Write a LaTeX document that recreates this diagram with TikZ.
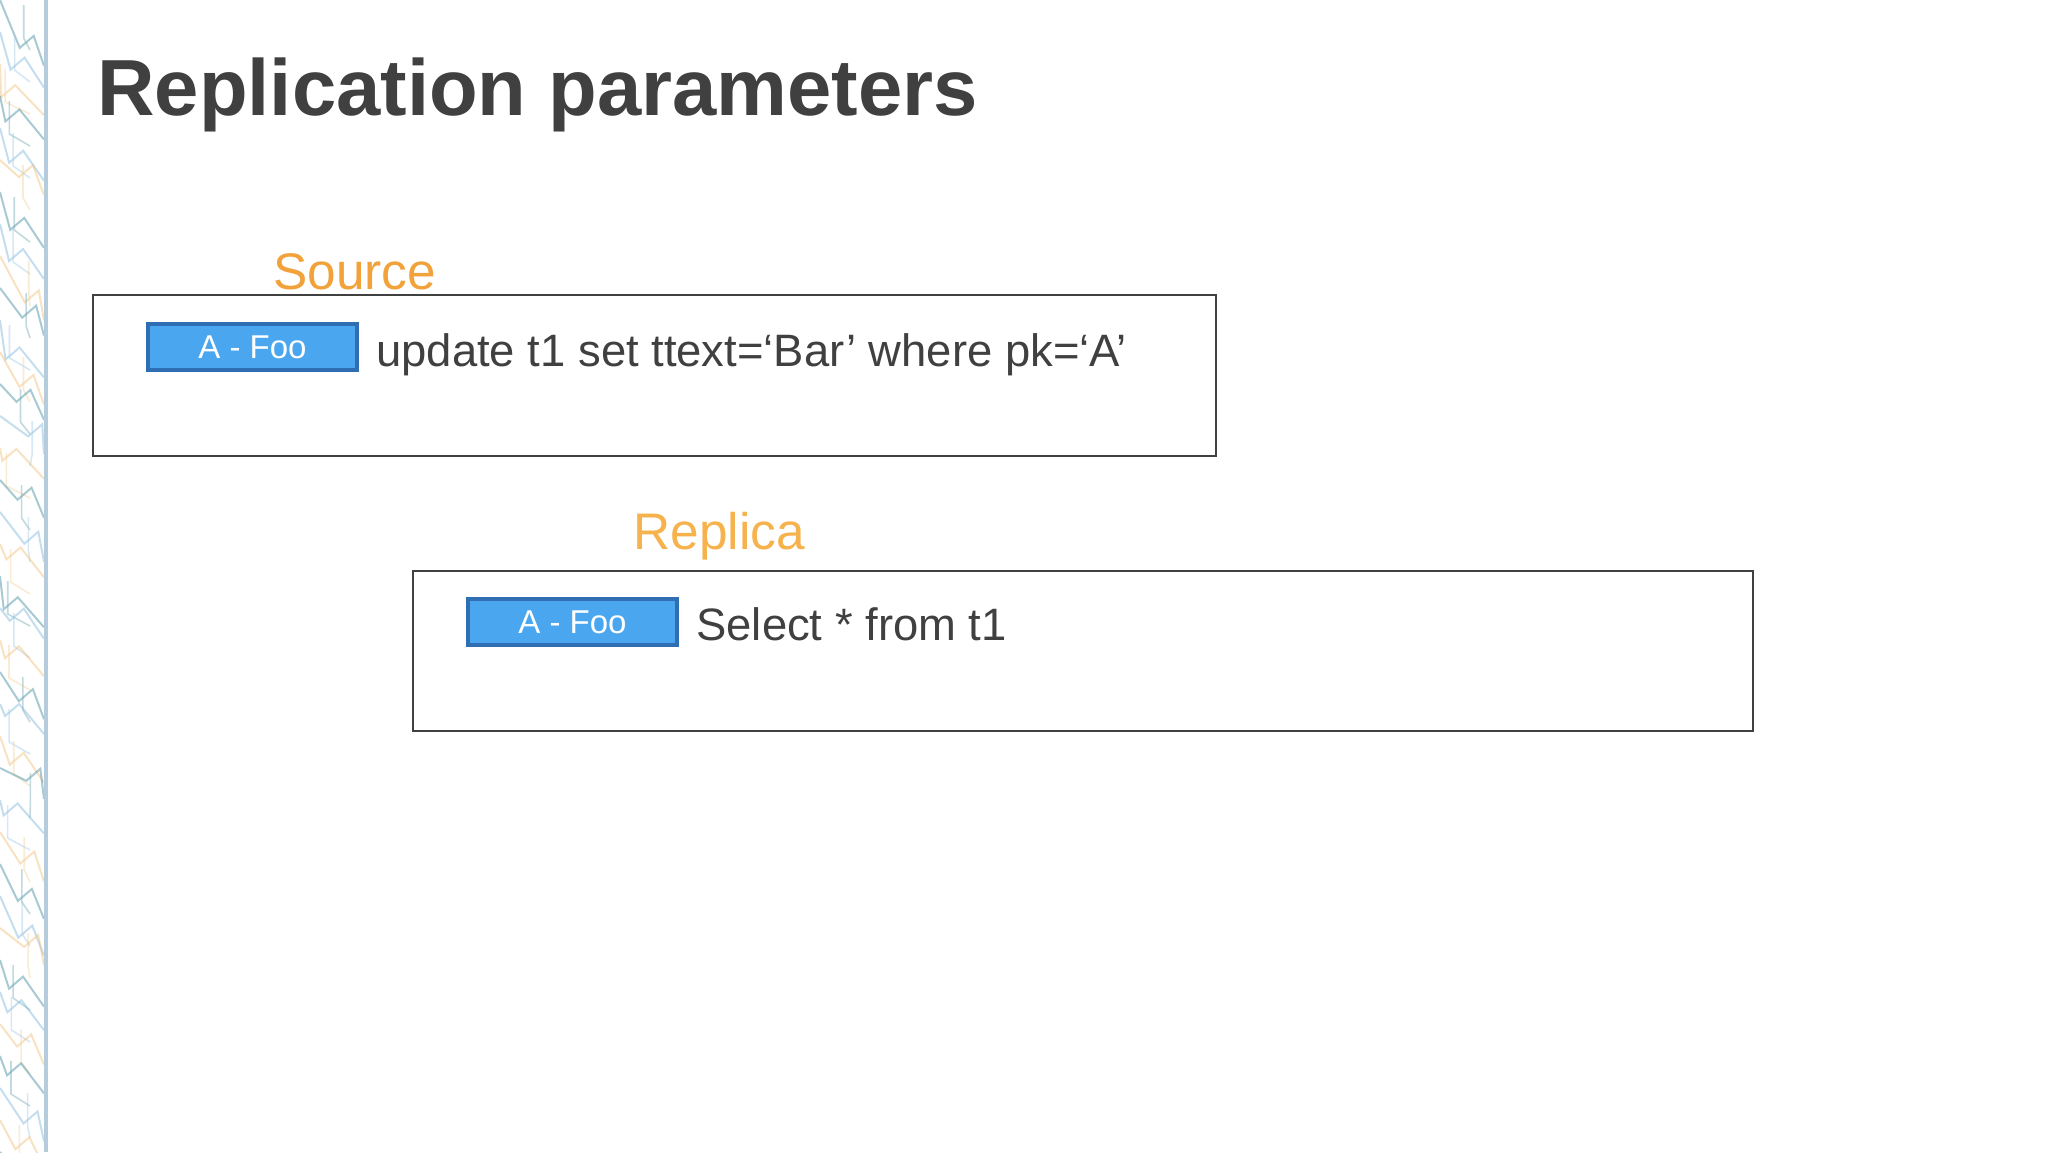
\documentclass[tikz,border=0pt]{standalone}
\usepackage{fontspec}
\setmainfont{Liberation Sans}
\definecolor{txt}{HTML}{404040}
\definecolor{orng}{HTML}{F2A23A}
\definecolor{orngl}{HTML}{F6B24C}
\definecolor{boxfill}{HTML}{4AA6EE}
\definecolor{boxedge}{HTML}{2F6EB2}
\definecolor{deco1}{HTML}{3F8A9C}
\definecolor{deco2}{HTML}{F1C079}
\definecolor{deco3}{HTML}{7FB7DD}
\definecolor{stripline}{HTML}{B4CCDC}
\tikzset{
  frame/.style={draw=txt, line width=1.2pt},
  tag/.style={draw=boxedge, line width=1.8pt, fill=boxfill},
  tagtext/.style={text=white, font=\fontsize{16.5}{18}\selectfont, inner sep=0pt},
  heading/.style={text=orng, font=\fontsize{25.7}{30}\selectfont, anchor=base west, inner sep=0pt},
  code/.style={text=txt, font=\fontsize{22.7}{27}\selectfont, anchor=base west, inner sep=0pt},
  decoline/.style={line width=1pt, opacity=0.45}
}
\begin{document}
\begin{tikzpicture}[x=0.5pt,y=-0.5pt]
\useasboundingbox (0,0) rectangle (2048,1152);
\fill[white] (0,0) rectangle (2048,1152);
% decorative strip
\begin{scope}
\clip (0,0) rectangle (46,1152);
\pgfmathsetseed{11}
\foreach \i in {0,...,36}{
  \pgfmathsetmacro{\yy}{\i*32}
  \pgfmathsetmacro{\dx}{rnd*30}
  \pgfmathsetmacro{\dy}{rnd*40+10}
  \pgfmathtruncatemacro{\cc}{mod(\i,3)}
  \ifnum\cc=0 \def\col{deco1}\fi
  \ifnum\cc=1 \def\col{deco3}\fi
  \ifnum\cc=2 \def\col{deco2}\fi
  \draw[decoline, draw=\col] (0,\yy) -- (\dx,\yy+\dy) -- (\dx+14,\yy+\dy-12) -- (44,\yy+\dy+18);
  \draw[decoline, draw=\col!70, line width=0.8pt] (\dx+4,\yy+5) -- (\dx+4,\yy+38) -- (30,\yy+50);
}
\end{scope}
\draw[draw=stripline, line width=1.6pt] (46,0) -- (46,1152);
% title
\node[anchor=base west, inner sep=0pt, text=txt, font=\bfseries\fontsize{39.8}{46}\selectfont] (title) at (97,115) {Replication parameters};
% source
\node[heading] (srclabel) at (273,289) {Source};
\draw[frame] (93,295) rectangle (1216,456);
\node[tag, minimum width=104.5pt, minimum height=23pt, inner sep=0pt] (srctag) at (252.5,347) {};
\node[tagtext] (srctagtext) at (srctag.center) {A - Foo};
\node[code] (srccode) at (376,366) {update t1 set ttext=‘Bar’ where pk=‘A’};
% replica
\node[heading, text=orngl] (replabel) at (633,549) {Replica};
\draw[frame] (413,571) rectangle (1753,731);
\node[tag, minimum width=104.5pt, minimum height=23pt, inner sep=0pt] (reptag) at (572.5,622) {};
\node[tagtext] (reptagtext) at (reptag.center) {A - Foo};
\node[code] (repcode) at (696,640) {Select * from t1};
\end{tikzpicture}
\end{document}
